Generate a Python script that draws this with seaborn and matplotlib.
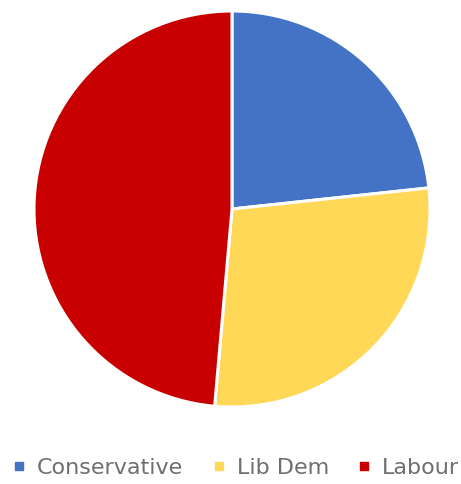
import matplotlib
matplotlib.use("Agg")
import matplotlib.pyplot as plt
from matplotlib.lines import Line2D
import seaborn as sns

parties = ["Conservative", "Lib Dem", "Labour"]
shares = [23.3, 28.1, 48.6]
colors = ["#4472C4", "#FFD858", "#C80000"]

sns.set_theme(style="white")
plt.rcParams["font.family"] = ["DejaVu Sans"]

fig = plt.figure(figsize=(4.61, 4.84), dpi=100)
cx, cy, r = 232, 209, 199
ax = fig.add_axes([(cx - r) / 461, 1 - (cy + r) / 484, 2 * r / 461, 2 * r / 484])
ax.pie(shares, colors=colors, startangle=90, counterclock=False,
       wedgeprops=dict(edgecolor="white", linewidth=2.2), radius=1.0)
ax.set_xlim(-1.005, 1.005)
ax.set_ylim(-1.005, 1.005)
ax.set_aspect("equal")
ax.axis("off")

handles = [Line2D([0], [0], marker="s", linestyle="", markersize=5.5,
                  markerfacecolor=c, markeredgecolor=c) for c in colors]
fig.legend(handles, parties, loc="center", bbox_to_anchor=(236 / 461, 1 - 468 / 484),
           ncol=3, frameon=False, fontsize=16, handletextpad=0.5,
           columnspacing=1.3, labelcolor="#6f6f6f", handlelength=0.6,
           borderpad=0, borderaxespad=0)

fig.savefig("out.png", dpi=100, facecolor="white")
